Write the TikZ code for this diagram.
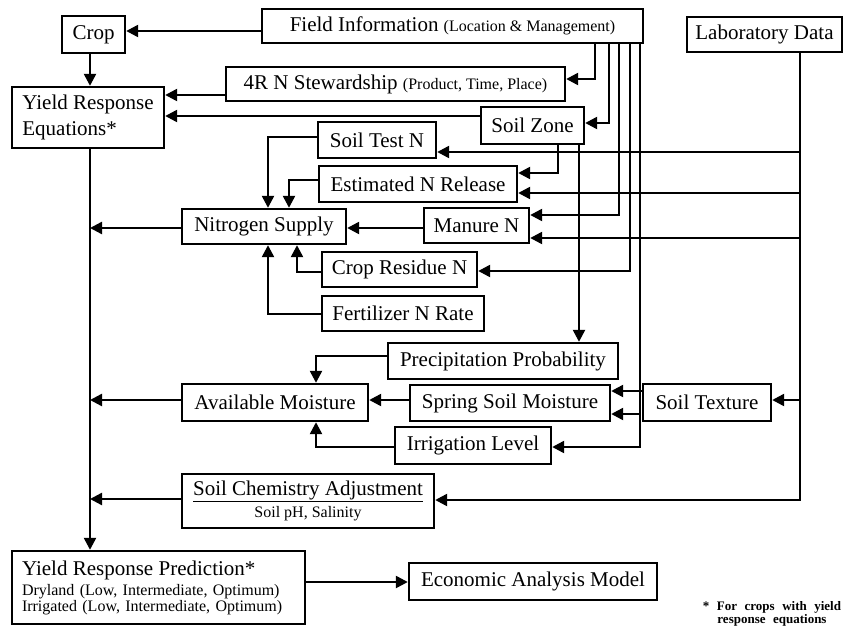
\documentclass[tikz,border=0pt]{standalone}
\usepackage{fontspec}
\setmainfont{Liberation Serif}
\usetikzlibrary{arrows.meta}
\newcommand\txtL{\fontsize{21}{24}\selectfont}
\newcommand\txtS{\fontsize{16}{18}\selectfont}
\newcommand\widesp{\spaceskip=7.5pt plus 1pt\relax}
\begin{document}
\begin{tikzpicture}[x=1pt,y=-1pt,
  box/.style={draw, line width=2.4pt, fill=white, inner sep=0pt, font=\txtL},
  link/.style={line width=2.4pt},
  arr/.style={link, -{Triangle[length=12pt,width=12pt]}},
  note/.style={font=\fontsize{13}{13}\selectfont\bfseries, align=center, inner sep=0pt}
]
\useasboundingbox (0,0) rectangle (844,626);

% ---- boxes ----
\node[box, minimum width=63pt, minimum height=37pt] (crop) at (93.5,34.5) {Crop};
\node[box, minimum width=381pt, minimum height=34pt] (field) at (452.5,26)
  {Field Information {\txtS(Location \& Management)}};
\node[box, minimum width=155pt, minimum height=35pt] (lab) at (764.5,34.5) {Laboratory Data};
\node[box, minimum width=152pt, minimum height=61pt, align=left,
  font=\fontsize{21}{26}\selectfont] (yre) at (88,117.5) {Yield Response\\Equations*};
\node[box, minimum width=339pt, minimum height=34pt] (fourr) at (395.5,84)
  {4R N Stewardship {\txtS(Product, Time, Place)}};
\node[box, minimum width=103pt, minimum height=37pt] (sz) at (532.5,125.5) {Soil Zone};
\node[box, minimum width=118pt, minimum height=36pt] (stn) at (377,140) {Soil Test N};
\node[box, minimum width=198pt, minimum height=36pt] (enr) at (418,184) {Estimated N Release};
\node[box, minimum width=164pt, minimum height=35pt] (ns) at (264,226.5) {Nitrogen Supply};
\node[box, minimum width=105pt, minimum height=35pt] (man) at (476.5,225.5) {Manure N};
\node[box, minimum width=155pt, minimum height=35pt] (crn) at (399.5,269.5) {Crop Residue N};
\node[box, minimum width=162pt, minimum height=35pt] (fnr) at (403,313.5) {Fertilizer N Rate};
\node[box, minimum width=230pt, minimum height=36pt] (pp) at (503,361) {Precipitation Probability};
\node[box, minimum width=186pt, minimum height=37pt] (am) at (275,402.5) {Available Moisture};
\node[box, minimum width=200pt, minimum height=36pt] (ssm) at (510,403) {Spring Soil Moisture};
\node[box, minimum width=128pt, minimum height=37pt] (st) at (707,402.5) {Soil Texture};
\node[box, minimum width=156pt, minimum height=37pt] (irr) at (473,445.5) {Irrigation Level};
\node[box, minimum width=252pt, minimum height=54pt, align=center] (sca) at (308,501)
  {\underline{Soil Chemistry Adjustment}\\[-2pt]{\fontsize{16}{18}\selectfont Soil pH, Salinity}};
\node[box, minimum width=293pt, minimum height=73pt, text width=273pt, align=left,
  font=\txtS] (yrp) at (158.5,587.5)
  {{\fontsize{21}{22}\selectfont Yield Response Prediction*}\\[2pt]
   Dryland (Low, Intermediate, Optimum)\\[-2pt]
   Irrigated (Low, Intermediate, Optimum)};
\node[box, minimum width=248pt, minimum height=37pt] (econ) at (533,581.5) {Economic Analysis Model};

% ---- footnote ----
\node[note, anchor=south] (note) at (772,626)
  {{\widesp * For crops with yield}\\{\widesp response equations}};

% ---- Field Information feeds ----
\draw[arr] (field.west |- 0,31) -- (crop.east |- 0,31);
\draw[arr] (field.south -| 595,0) |- (fourr.east |- 0,79);
\draw[arr] (field.south -| 609,0) |- (sz.east |- 0,123);
\draw[arr] (field.south -| 619,0) |- (man.east |- 0,215);
\draw[arr] (field.south -| 630,0) |- (crn.east |- 0,271);
\draw[arr] (field.south -| 640,0) |- (irr.east |- 0,447);
\coordinate (fb) at (640,414);
\draw[arr] (fb) -- (ssm.east |- fb);

% ---- yield response chain ----
\draw[arr] (crop.south -| 90,0) -- (yre.north -| 90,0);
\draw[arr] (fourr.west |- 0,95) -- (yre.east |- 0,95);
\draw[arr] (sz.west |- 0,116) -- (yre.east |- 0,116);
\draw[arr] (yre.south -| 90,0) -- (yrp.north -| 90,0);
\draw[arr] (yrp.east |- 0,582) -- (econ.west |- 0,582);

% ---- Soil Zone feeds ----
\draw[arr] (sz.south -| 558,0) |- (enr.east |- 0,173);
\draw[arr] (sz.south -| 579,0) -- (pp.north -| 579,0);

% ---- Laboratory Data feeds ----
\draw[arr] (lab.south -| 800,0) |- (sca.east |- 0,500);
\coordinate (lb1) at (800,152);
\coordinate (lb2) at (800,193);
\coordinate (lb3) at (800,238);
\coordinate (lb4) at (800,400);
\draw[arr] (lb1) -- (stn.east |- lb1);
\draw[arr] (lb2) -- (enr.east |- lb2);
\draw[arr] (lb3) -- (man.east |- lb3);
\draw[arr] (lb4) -- (st.east |- lb4);

% ---- nitrogen supply ----
\draw[arr] (stn.west |- 0,137) -| (ns.north -| 268,0);
\draw[arr] (enr.west |- 0,180) -| (ns.north -| 289,0);
\draw[arr] (man.west |- 0,228) -- (ns.east |- 0,228);
\draw[arr] (crn.west |- 0,272) -| (ns.south -| 297,0);
\draw[arr] (fnr.west |- 0,314) -| (ns.south -| 268,0);

% ---- moisture ----
\draw[arr] (pp.west |- 0,356) -| (am.north -| 316,0);
\draw[arr] (ssm.west |- 0,400) -- (am.east |- 0,400);
\draw[arr] (irr.west |- 0,447) -| (am.south -| 316,0);
\draw[arr] (st.west |- 0,391) -- (ssm.east |- 0,391);

% ---- into the main line ----
\coordinate (j1) at (90,228);
\coordinate (j2) at (90,400);
\coordinate (j3) at (90,499);
\draw[arr] (ns.west |- j1) -- (j1);
\draw[arr] (am.west |- j2) -- (j2);
\draw[arr] (sca.west |- j3) -- (j3);
\end{tikzpicture}
\end{document}
